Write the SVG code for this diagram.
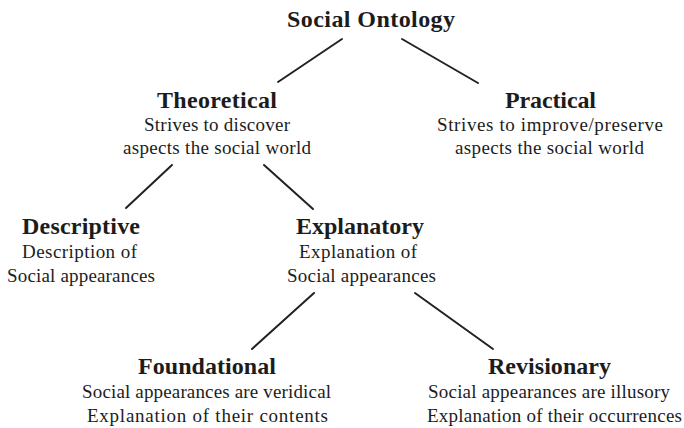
<svg xmlns="http://www.w3.org/2000/svg" width="684" height="428" viewBox="0 0 684 428">
<style>
text{font-family:"Liberation Serif","Times New Roman",serif;fill:#1c1c1c;text-anchor:middle}
.t{font-size:24px;font-weight:bold}
.d{font-size:19px}
.c line{stroke:#222;stroke-width:2;stroke-linecap:round}
</style>
<rect width="684" height="428" fill="#fff"/>
<g class="c" id="connectors">
<line x1="342" y1="39" x2="278" y2="82"/>
<line x1="402" y1="39" x2="478" y2="83"/>
<line x1="172" y1="165" x2="126" y2="208"/>
<line x1="264" y1="165" x2="313" y2="209"/>
<line x1="314" y1="293" x2="252" y2="349"/>
<line x1="415" y1="293" x2="493" y2="349"/>
</g>
<g id="social-ontology"><text class="t" x="371" y="27" textLength="168" lengthAdjust="spacing">Social Ontology</text></g>
<g id="theoretical"><text class="t" x="217" y="108" textLength="120" lengthAdjust="spacing">Theoretical</text><text class="d" x="217" y="131" textLength="146" lengthAdjust="spacing">Strives to discover</text><text class="d" x="217" y="154" textLength="188" lengthAdjust="spacing">aspects the social world</text></g>
<g id="practical"><text class="t" x="550.5" y="108" textLength="91" lengthAdjust="spacing">Practical</text><text class="d" x="550" y="131" textLength="226" lengthAdjust="spacing">Strives to improve/preserve</text><text class="d" x="549.5" y="154" textLength="189" lengthAdjust="spacing">aspects the social world</text></g>
<g id="descriptive"><text class="t" x="81" y="234" textLength="118" lengthAdjust="spacing">Descriptive</text><text class="d" x="79.5" y="258" textLength="115" lengthAdjust="spacing">Description of</text><text class="d" x="81" y="282" textLength="148" lengthAdjust="spacing">Social appearances</text></g>
<g id="explanatory"><text class="t" x="360" y="234" textLength="128" lengthAdjust="spacing">Explanatory</text><text class="d" x="358" y="258" textLength="118" lengthAdjust="spacing">Explanation of</text><text class="d" x="361.5" y="282" textLength="149" lengthAdjust="spacing">Social appearances</text></g>
<g id="foundational"><text class="t" x="207" y="374" textLength="138" lengthAdjust="spacing">Foundational</text><text class="d" x="206.5" y="398" textLength="249" lengthAdjust="spacing">Social appearances are veridical</text><text class="d" x="207.5" y="422" textLength="241" lengthAdjust="spacing">Explanation of their contents</text></g>
<g id="revisionary"><text class="t" x="549.5" y="374" textLength="123" lengthAdjust="spacing">Revisionary</text><text class="d" x="549" y="398" textLength="242" lengthAdjust="spacing">Social appearances are illusory</text><text class="d" x="554.5" y="422" textLength="255" lengthAdjust="spacing">Explanation of their occurrences</text></g>
</svg>
